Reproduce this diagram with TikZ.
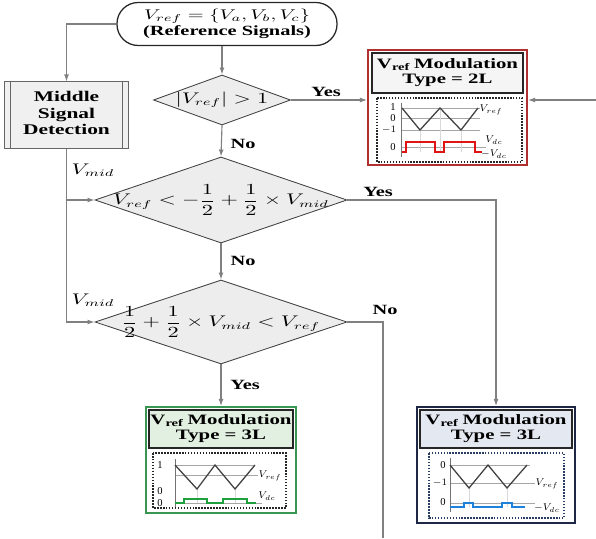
\documentclass[tikz,border=0pt]{standalone}
\usepackage{fontspec}
\setmainfont{Liberation Serif}
\usepackage{amsmath}
\usepackage{tikz,xcolor}
\usetikzlibrary{shapes.geometric,arrows.meta,calc}

\definecolor{flowgray}{RGB}{128,128,128}
\definecolor{redborder}{RGB}{176,48,48}
\definecolor{grnborder}{RGB}{56,150,80}
\definecolor{grnfill}{RGB}{226,240,226}
\definecolor{bluborder}{RGB}{30,40,70}
\definecolor{blufill}{RGB}{228,232,240}
\definecolor{bludot}{RGB}{40,60,100}
\definecolor{pulsered}{RGB}{225,20,20}
\definecolor{pulsegrn}{RGB}{30,160,60}
\definecolor{pulseblu}{RGB}{30,130,220}

\newcommand{\wide}[1]{\scalebox{1.45}[1]{#1}}
\newcommand{\modtext}[1]{\wide{\begin{tabular}{@{}c@{}}V\textsubscript{ref}\,Modulation\\Type = #1\end{tabular}}}

\tikzset{
  flow/.style={flowgray, line width=0.8pt},
  arr/.style={flow, -{Latex[length=5pt,width=3.5pt]}},
  terminal/.style={draw=black!85, fill=white, line width=0.9pt, rounded corners=0.53cm, inner sep=0pt,
    minimum width=5.5cm, minimum height=1.075cm, font=\fontsize{10}{11.5}\selectfont},
  midbox/.style={draw=black!60, fill=black!6, line width=0.7pt, inner sep=0pt,
    minimum width=3.075cm, minimum height=1.65cm, font=\fontsize{10.5}{11.8}\selectfont\bfseries},
  decision/.style={diamond, draw=black!75, fill=black!7, line width=0.6pt, inner sep=0pt},
  dtext/.style={inner sep=0pt, font=\fontsize{10.5}{12}\selectfont},
  lbl/.style={inner sep=0pt, font=\fontsize{10}{11}\selectfont\bfseries},
  modbox/.style={fill=white, line width=1.4pt, inner sep=0pt},
  modtitle/.style={draw=black!85, line width=1.3pt, inner sep=0pt, font=\fontsize{10.2}{11}\selectfont\bfseries},
  plotframe/.style={densely dotted, line width=1.1pt},
  gridl/.style={black!35, line width=0.4pt},
  wave/.style={black!75, line width=0.9pt},
  pulse/.style={line width=1.1pt},
  tk/.style={inner sep=0pt, font=\fontsize{7.5}{8}\selectfont}
}

\begin{document}
\begin{tikzpicture}[x=0.025cm,y=-0.025cm]
\useasboundingbox (0,0) rectangle (596,538);

%reference signals and middle signal detection
\node[terminal] (ref) at (227,24) {\wide{\begin{tabular}{@{}c@{}}$V_{ref}=\{V_a,V_b,V_c\}$\\\textbf{(Reference Signals)}\end{tabular}}};
\node[midbox] (msd) at (66.5,115) {\wide{\begin{tabular}{@{}c@{}}Middle\\Signal\\Detection\end{tabular}}};
\draw[black!60] ([xshift=0.15cm]msd.north west) -- ([xshift=0.15cm]msd.south west);
\draw[black!60] ([xshift=-0.15cm]msd.north east) -- ([xshift=-0.15cm]msd.south east);

%decision blocks
\node[decision, minimum width=3.425cm, minimum height=1.25cm] (d1) at (222,100) {};
\node[dtext] (d1t) at (d1) {\wide{$|V_{ref}|>1$}};
\node[decision, minimum width=6.3cm, minimum height=2.15cm] (d2) at (221,200) {};
\node[dtext] (d2t) at (d2) {\wide{$\displaystyle V_{ref}<-\frac{1}{2}+\frac{1}{2}\times V_{mid}$}};
\node[decision, minimum width=6.3cm, minimum height=2.1cm] (d3) at (221,322) {};
\node[dtext] (d3t) at (d3) {\wide{$\displaystyle \frac{1}{2}+\frac{1}{2}\times V_{mid}<V_{ref}$}};

%modulation type = 2L
\node[modbox, draw=redborder, minimum width=3.975cm, minimum height=2.875cm] (m2) at (447.5,107.5) {};
\node[modtitle, fill=black!4, minimum width=3.775cm, minimum height=1cm] (m2t) at (447.5,73) {\modtext{2L}};
\draw[plotframe, black!85] (377,98) rectangle (522,162);
\draw[gridl] (401,108) -- (480,108); \draw[gridl] (401,118) -- (480,118); \draw[gridl] (401,130) -- (480,130);
\draw[gridl] (401,147) -- (486,147);
\draw[black!15] (420,130) -- (420,152); \draw[black!15] (440,108) -- (440,152); \draw[black!15] (461,130) -- (461,152);
\draw[gridl, black!55] (401,103) -- (401,157);
\draw[wave] (402,108) -- (420,130) -- (440,108) -- (461,130) -- (478,108);
\draw[pulse, pulsered] (402,152) -- (406,152) -- (406,142) -- (435,142) -- (435,152) -- (444,152) -- (444,142) -- (475,142) -- (475,152) -- (482,152);
\node[tk] (m2a) at (393,107) {1}; \node[tk] (m2b) at (393,118) {0}; \node[tk] (m2c) at (389,130) {$-1$}; \node[tk] (m2d) at (393,147) {0};
\node[tk] (m2e) at (491,110) {$V_{ref}$};
\node[tk] (m2f) at (494,140) {$V_{dc}$}; \node[tk] (m2g) at (494,154) {$-V_{dc}$};

%modulation type = 3L, green
\node[modbox, draw=grnborder, minimum width=3.75cm, minimum height=2.65cm] (m3g) at (221,460) {};
\node[modtitle, fill=grnfill, minimum width=3.6cm, minimum height=0.95cm] (m3gt) at (221,429) {\modtext{3L}};
\draw[plotframe, black!85] (153,453) rectangle (286,508);
\draw[gridl] (175,465) -- (255,465); \draw[gridl] (175,475) -- (258,475); \draw[gridl] (175,503) -- (262,503);
\draw[black!15] (197,489) -- (197,503); \draw[black!15] (235,489) -- (235,503);
\draw[gridl, black!55] (175,459) -- (175,507);
\draw[wave] (175,465) -- (197,489) -- (215,465) -- (235,489) -- (255,465);
\draw[pulse, pulsegrn] (175,503) -- (184,503) -- (184,499) -- (207,499) -- (207,503) -- (223,503) -- (223,499) -- (247,499) -- (247,503) -- (256,503);
\node[tk] (m3ga) at (160,465) {1}; \node[tk] (m3gb) at (160,491) {0}; \node[tk] (m3gc) at (160,503) {0};
\node[tk] (m3gd) at (270,476) {$V_{ref}$}; \node[tk] (m3ge) at (267,496) {$V_{dc}$};

%modulation type = 3L, blue
\node[modbox, draw=bluborder, minimum width=3.95cm, minimum height=2.9cm] (m3b) at (496,465) {};
\node[modtitle, fill=blufill, minimum width=3.8cm, minimum height=0.95cm] (m3bt) at (496,429) {\modtext{3L}};
\draw[plotframe, bludot] (429,453) rectangle (564,518);
\draw[gridl] (450,465) -- (530,465); \draw[gridl] (450,483) -- (535,483); \draw[gridl] (450,503) -- (535,503);
\draw[black!15] (469,488) -- (469,507); \draw[black!15] (507,488) -- (507,507);
\draw[gridl, black!55] (450,458) -- (450,512);
\draw[wave] (450,465) -- (469,488) -- (488,465) -- (507,488) -- (527,465);
\draw[pulse, pulseblu] (450,507) -- (464,507) -- (464,503) -- (473,503) -- (473,507) -- (502,507) -- (502,503) -- (512,503) -- (512,507) -- (525,507);
\node[tk] (m3ba) at (443,465) {0}; \node[tk] (m3bb) at (440,483) {$-1$}; \node[tk] (m3bc) at (443,502) {0};
\node[tk] (m3bd) at (547,484) {$V_{ref}$}; \node[tk] (m3be) at (547,508) {$-V_{dc}$};

%connectors
\coordinate (feed) at (596,100);
\coordinate (exitno) at (383,538);
\draw[arr] (ref.west) -| (msd.north);
\draw[arr] (ref.south -| d1.north) -- (d1.north);
\draw[arr] (d1.east) -- (d1.east -| m2.west);
\draw[arr] (feed) -- (feed -| m2.east);
\draw[arr] (d1.south) -- (d2.north);
\draw[arr] (msd.south) |- (d3.west);
\draw[arr] (msd.south |- d2.west) -- (d2.west);
\draw[arr] (d2.east) -| (m3b.north);
\draw[arr] (d2.south) -- (d3.north);
\draw[flow] (d3.east) -| (exitno);
\draw[arr] (d3.south) -- (m3g.north);

%labels
\node[lbl] (yes1) at (326,92) {\wide{Yes}};
\node[lbl] (no1) at (243,144) {\wide{No}};
\node[lbl] (yes2) at (378,192) {\wide{Yes}};
\node[lbl] (no2) at (243,261) {\wide{No}};
\node[lbl] (no3) at (385,310) {\wide{No}};
\node[lbl] (yes3) at (245,385) {\wide{Yes}};
\node[dtext] (vmid1) at (93,170) {\wide{$V_{mid}$}};
\node[dtext] (vmid2) at (93,300) {\wide{$V_{mid}$}};

\end{tikzpicture}
\end{document}
